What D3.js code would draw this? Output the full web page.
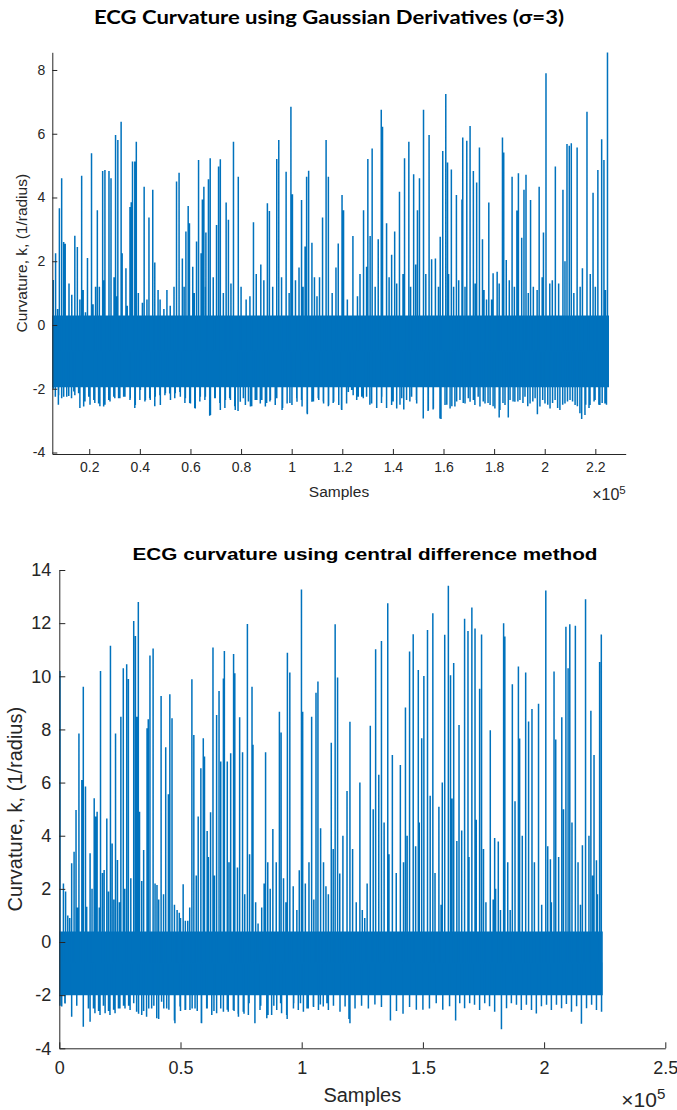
<!DOCTYPE html>
<html><head><meta charset="utf-8">
<script src="https://cdn.jsdelivr.net/npm/d3@7"></script>
<style>body{margin:0;background:#fff}svg{display:block}</style></head>
<body><svg id="c" width="677" height="1110"></svg>
<script>
// ---------- Top panel: Gaussian derivatives (x in units of 1e5 samples) ----------
const gTitle = "ECG Curvature using Gaussian Derivatives (σ=3)";
const gXTicks = [0.2,0.4,0.6,0.8,1.0,1.2,1.4,1.6,1.8,2.0,2.2];
const gYTicks = [-4,-2,0,2,4,6,8];
const gSpan = [0.054, 2.254];          // first / last sample (×1e5)
const gCore = [-1.95, 0.3];            // dense core of the trace
const gPeaks = [
[0.058,1.41],[0.067,2.25],[0.075,0.5],[0.082,3.66],[0.091,4.6],[0.099,2.6],[0.105,2.55],[0.12,1.3],[0.131,0.95],[0.143,2.8],[0.153,2.45],[0.163,0.8],[0.170,4.68],[0.176,1.1],[0.185,0.4],[0.193,2.1],[0.209,5.39],[0.215,0.65],[0.225,1.2],[0.232,3.6],[0.24,1.2],[0.253,4.83],[0.258,1.4],[0.262,4.86],[0.278,4.83],[0.286,4.6],[0.298,1.5],[0.304,5.96],[0.31,0.9],[0.313,5.8],[0.326,6.38],[0.330,2.25],[0.345,1.78],[0.35,0.6],[0.361,3.7],[0.366,3.85],[0.371,5.13],[0.380,5.13],[0.386,5.75],[0.394,1.0],[0.41,0.7],[0.417,4.34],[0.428,0.8],[0.436,3.37],[0.451,4.24],[0.459,1.96],[0.472,1.1],[0.48,0.8],[0.495,0.5],[0.507,1.1],[0.52,0.6],[0.535,1.2],[0.545,4.5],[0.555,4.78],[0.568,2.09],[0.575,1.2],[0.582,2.93],[0.591,3.73],[0.596,3.19],[0.609,1.83],[0.615,1.0],[0.624,2.62],[0.632,5.18],[0.642,2.25],[0.647,3.94],[0.653,4.34],[0.66,1.2],[0.661,2.9],[0.671,4.57],[0.678,5.23],[0.69,1.5],[0.703,3.14],[0.711,4.97],[0.718,5.2],[0.73,1.0],[0.741,3.84],[0.750,3.3],[0.76,1.3],[0.770,5.75],[0.789,4.65],[0.8,1.2],[0.82,0.8],[0.835,0.9],[0.849,3.22],[0.86,1.6],[0.878,1.9],[0.89,1.4],[0.904,3.82],[0.912,3.58],[0.925,1.2],[0.941,5.21],[0.949,5.8],[0.96,1.5],[0.978,4.81],[0.99,1.0],[0.997,6.85],[1.003,4.1],[1.015,1.4],[1.029,1.8],[1.039,3.92],[1.045,1.2],[1.053,2.46],[1.059,4.65],[1.067,4.84],[1.080,2.58],[1.09,1.5],[1.1,0.9],[1.11,1.5],[1.122,3.37],[1.136,5.8],[1.145,4.65],[1.16,1.0],[1.175,1.8],[1.184,2.56],[1.199,4.08],[1.205,3.6],[1.22,0.8],[1.242,2.79],[1.26,0.9],[1.27,1.6],[1.284,3.6],[1.296,1.83],[1.301,5.21],[1.310,2.79],[1.318,5.54],[1.33,1.2],[1.342,2.69],[1.354,6.75],[1.359,6.22],[1.375,3.19],[1.385,1.5],[1.395,2.2],[1.407,2.93],[1.415,1.3],[1.426,4.18],[1.44,1.6],[1.446,5.23],[1.463,5.75],[1.47,1.2],[1.482,4.73],[1.49,1.9],[1.497,3.6],[1.505,4.6],[1.521,6.75],[1.53,1.6],[1.543,5.96],[1.553,2.06],[1.568,2.09],[1.58,1.2],[1.587,2.77],[1.597,5.46],[1.609,7.25],[1.616,5.1],[1.62,1.6],[1.631,4.88],[1.64,1.2],[1.651,4.08],[1.66,1.4],[1.673,3.94],[1.676,5.88],[1.685,1.2],[1.692,5.78],[1.705,6.24],[1.718,4.83],[1.725,1.3],[1.731,4.47],[1.742,5.57],[1.754,2.69],[1.76,1.1],[1.77,0.8],[1.779,3.84],[1.79,0.8],[1.796,1.62],[1.812,1.67],[1.82,1.3],[1.833,5.88],[1.838,5.41],[1.848,2.04],[1.86,1.4],[1.871,4.65],[1.88,1.2],[1.890,3.59],[1.896,4.76],[1.909,2.74],[1.918,4.24],[1.926,4.71],[1.935,1.0],[1.944,3.92],[1.955,1.2],[1.97,1.1],[1.978,4.34],[1.99,1.5],[1.995,2.9],[2.005,7.9],[2.02,1.3],[2.03,1.4],[2.042,4.97],[2.055,1.3],[2.072,4.24],[2.08,2.0],[2.088,5.68],[2.097,5.62],[2.105,5.7],[2.115,1.0],[2.128,5.57],[2.14,1.2],[2.149,1.78],[2.167,6.69],[2.18,1.6],[2.191,4.15],[2.2,1.2],[2.210,4.86],[2.225,5.83],[2.234,5.18],[2.24,1.1],[2.248,8.55]
];
const gTroughs = [
[0.058,-2.0],[0.066,-2.25],[0.078,-2.5],[0.079,-2.2],[0.091,-2.3],[0.099,-2.25],[0.111,-2.25],[0.119,-2.23],[0.130,-2.3],[0.139,-2.09],[0.143,-2.2],[0.158,-2.14],[0.163,-2.6],[0.178,-2.56],[0.183,-2.4],[0.198,-2.25],[0.203,-2.5],[0.218,-2.35],[0.222,-2.45],[0.237,-2.46],[0.242,-2.55],[0.257,-2.56],[0.262,-2.5],[0.277,-2.35],[0.282,-2.4],[0.297,-2.25],[0.301,-2.3],[0.316,-2.3],[0.321,-2.3],[0.336,-2.25],[0.341,-2.25],[0.361,-2.35],[0.362,-2.3],[0.380,-2.6],[0.382,-2.51],[0.400,-2.35],[0.402,-2.04],[0.420,-2.4],[0.422,-2.35],[0.439,-2.3],[0.441,-2.35],[0.459,-2.55],[0.461,-2.25],[0.479,-2.2],[0.481,-2.51],[0.499,-2.2],[0.501,-2.14],[0.518,-2.15],[0.521,-2.35],[0.538,-2.3],[0.540,-2.14],[0.558,-2.1],[0.560,-2.25],[0.578,-2.45],[0.580,-2.3],[0.597,-2.45],[0.600,-2.46],[0.617,-2.6],[0.619,-2.62],[0.637,-2.4],[0.639,-2.25],[0.657,-2.35],[0.659,-2.25],[0.676,-2.85],[0.679,-2.82],[0.696,-2.3],[0.698,-2.3],[0.716,-2.45],[0.718,-2.67],[0.736,-2.6],[0.738,-2.35],[0.755,-2.3],[0.758,-2.35],[0.775,-2.55],[0.777,-2.67],[0.788,-2.7],[0.797,-2.41],[0.809,-2.3],[0.817,-2.51],[0.829,-2.4],[0.837,-2.56],[0.842,-2.55],[0.856,-2.35],[0.862,-2.35],[0.876,-2.46],[0.882,-2.35],[0.896,-2.56],[0.901,-2.45],[0.914,-2.4],[0.916,-2.35],[0.935,-2.51],[0.941,-2.3],[0.962,-2.67],[0.964,-2.6],[0.982,-2.46],[0.993,-2.45],[1.001,-2.51],[1.020,-2.3],[1.021,-2.41],[1.039,-2.35],[1.041,-2.56],[1.061,-2.77],[1.062,-2.8],[1.080,-2.41],[1.086,-2.4],[1.105,-2.3],[1.107,-2.35],[1.125,-2.4],[1.126,-2.46],[1.145,-2.55],[1.146,-2.51],[1.164,-2.45],[1.166,-2.41],[1.186,-2.51],[1.197,-2.65],[1.198,-2.67],[1.217,-2.46],[1.224,-2.1],[1.237,-2.04],[1.243,-2.2],[1.257,-2.35],[1.263,-2.25],[1.277,-2.25],[1.283,-2.3],[1.296,-2.25],[1.309,-2.5],[1.316,-2.46],[1.336,-2.6],[1.336,-2.51],[1.355,-2.45],[1.356,-2.25],[1.375,-2.6],[1.375,-2.35],[1.395,-2.51],[1.401,-2.4],[1.415,-2.62],[1.428,-2.5],[1.435,-2.3],[1.443,-2.65],[1.454,-2.35],[1.467,-2.4],[1.474,-2.25],[1.493,-2.35],[1.494,-2.46],[1.520,-2.9],[1.520,-2.93],[1.539,-2.7],[1.540,-2.67],[1.559,-2.65],[1.560,-2.62],[1.586,-2.93],[1.590,-2.95],[1.606,-2.51],[1.613,-2.5],[1.626,-2.62],[1.633,-2.55],[1.645,-2.56],[1.652,-2.4],[1.665,-2.35],[1.678,-2.45],[1.685,-2.46],[1.698,-2.3],[1.705,-2.41],[1.718,-2.35],[1.724,-2.51],[1.737,-2.25],[1.744,-2.56],[1.757,-2.4],[1.764,-2.46],[1.776,-2.45],[1.784,-2.51],[1.796,-2.55],[1.803,-2.62],[1.820,-2.9],[1.823,-2.67],[1.835,-2.45],[1.843,-2.51],[1.856,-2.9],[1.863,-2.35],[1.875,-2.4],[1.882,-2.41],[1.894,-2.4],[1.902,-2.35],[1.914,-2.45],[1.922,-2.25],[1.933,-2.55],[1.942,-2.46],[1.953,-2.4],[1.962,-2.3],[1.971,-2.8],[1.981,-2.56],[1.992,-2.35],[2.001,-2.46],[2.012,-2.5],[2.021,-2.62],[2.031,-2.45],[2.041,-2.35],[2.051,-2.6],[2.060,-2.67],[2.071,-2.5],[2.080,-2.46],[2.090,-2.4],[2.100,-2.35],[2.110,-2.4],[2.120,-2.51],[2.129,-2.55],[2.139,-2.77],[2.146,-2.95],[2.159,-2.82],[2.162,-2.5],[2.175,-2.6],[2.179,-2.51],[2.195,-2.4],[2.199,-2.35],[2.214,-2.5],[2.218,-2.51],[2.227,-2.45],[2.238,-2.46],[2.244,-2.5]
];

// ---------- Bottom panel: central difference ----------
const cTitle = "ECG curvature using central difference method";
const cXTicks = [0,0.5,1.0,1.5,2.0,2.5];
const cYTicks = [-4,-2,0,2,4,6,8,10,12,14];
const cSpan = [0.0, 2.242];
const cCore = [-2.0, 0.4];
const cPeaks = [
[0.003,10.2],[0.017,2.2],[0.026,1.9],[0.035,1.0],[0.043,0.9],[0.051,2.96],[0.061,3.4],[0.069,4.97],[0.075,1.3],[0.081,7.85],[0.093,6.1],[0.099,9.61],[0.108,5.85],[0.113,1.33],[0.127,3.34],[0.135,2.0],[0.144,5.41],[0.150,4.72],[0.156,4.9],[0.165,1.3],[0.170,10.2],[0.178,2.6],[0.185,2.71],[0.196,4.65],[0.203,1.9],[0.211,11.15],[0.218,3.71],[0.225,1.6],[0.232,7.85],[0.240,3.09],[0.248,1.5],[0.254,8.48],[0.264,10.3],[0.27,2.0],[0.278,10.45],[0.285,9.9],[0.295,2.4],[0.307,12.08],[0.314,11.52],[0.320,8.48],[0.326,12.8],[0.331,4.9],[0.34,2.3],[0.348,3.46],[0.362,8.04],[0.367,8.38],[0.374,10.78],[0.387,11.05],[0.395,2.2],[0.403,2.15],[0.41,1.6],[0.420,9.26],[0.43,1.8],[0.439,7.33],[0.450,5.56],[0.456,9.32],[0.465,8.42],[0.475,1.4],[0.486,1.2],[0.495,1.1],[0.5,0.9],[0.511,2.17],[0.52,0.8],[0.53,0.8],[0.538,1.3],[0.547,9.89],[0.555,7.79],[0.565,2.5],[0.573,4.72],[0.584,6.54],[0.594,7.67],[0.599,6.98],[0.610,4.18],[0.615,3.2],[0.624,4.88],[0.634,11.08],[0.64,2.5],[0.649,8.54],[0.659,9.45],[0.666,6.79],[0.677,9.92],[0.681,10.95],[0.693,6.79],[0.7,3.0],[0.707,7.1],[0.719,10.84],[0.724,10.11],[0.735,2.8],[0.744,8.46],[0.756,7.14],[0.765,1.8],[0.776,11.97],[0.785,3.3],[0.795,9.61],[0.799,7.42],[0.81,1.5],[0.82,0.7],[0.835,1.3],[0.845,2.2],[0.851,7.14],[0.86,3.0],[0.87,2.0],[0.881,4.25],[0.895,3.0],[0.908,8.67],[0.915,7.88],[0.925,2.4],[0.935,1.5],[0.941,10.89],[0.951,10.14],[0.965,2.1],[0.98,1.2],[0.99,2.7],[0.999,13.27],[1.004,8.67],[1.015,2.2],[1.03,3.0],[1.041,8.48],[1.05,1.6],[1.059,9.38],[1.067,9.8],[1.078,4.28],[1.09,3.0],[1.1,2.1],[1.11,1.8],[1.122,7.5],[1.13,3.5],[1.138,11.96],[1.148,9.95],[1.157,2.58],[1.17,4.0],[1.187,5.68],[1.199,8.29],[1.21,3.5],[1.225,1.5],[1.240,6.0],[1.25,1.2],[1.26,0.9],[1.27,2.2],[1.283,8.14],[1.295,5.0],[1.305,11.02],[1.318,6.29],[1.329,11.33],[1.34,4.5],[1.355,12.75],[1.36,3.3],[1.374,7.04],[1.39,2.6],[1.407,6.66],[1.42,3.0],[1.428,8.83],[1.435,4.0],[1.445,10.93],[1.46,11.58],[1.47,3.6],[1.481,10.24],[1.485,4.5],[1.495,7.67],[1.504,10.01],[1.519,11.74],[1.53,5.5],[1.541,12.37],[1.55,2.6],[1.566,5.09],[1.575,1.4],[1.58,6.0],[1.590,11.56],[1.605,13.41],[1.614,10.04],[1.62,5.4],[1.627,10.5],[1.64,3.8],[1.649,8.17],[1.66,4.2],[1.672,12.17],[1.686,11.7],[1.69,3.2],[1.702,12.59],[1.715,11.8],[1.72,4.6],[1.734,9.53],[1.742,11.57],[1.75,3.5],[1.76,1.5],[1.778,7.97],[1.79,1.6],[1.796,3.91],[1.8,2.0],[1.811,3.78],[1.82,1.2],[1.833,12.0],[1.838,11.5],[1.85,3.0],[1.86,1.2],[1.869,9.7],[1.88,5.3],[1.894,10.37],[1.899,7.66],[1.91,4.0],[1.924,10.14],[1.936,8.3],[1.950,8.77],[1.96,3.0],[1.977,8.97],[1.99,1.4],[2.007,13.23],[2.015,3.6],[2.026,3.11],[2.03,1.5],[2.041,10.18],[2.048,7.62],[2.06,3.2],[2.073,8.46],[2.08,5.0],[2.09,11.86],[2.099,10.3],[2.106,11.96],[2.115,4.5],[2.129,11.9],[2.14,3.0],[2.15,1.4],[2.158,3.64],[2.171,12.9],[2.185,4.0],[2.193,8.7],[2.2,2.5],[2.206,7.04],[2.216,3.08],[2.22,1.8],[2.229,10.54],[2.236,11.57]
];
const cTroughs = [
[0.003,-2.4],[0.010,-2.43],[0.023,-2.3],[0.024,-2.31],[0.051,-2.7],[0.051,-2.81],[0.072,-2.4],[0.072,-2.18],[0.099,-3.15],[0.099,-3.19],[0.120,-2.5],[0.127,-3.0],[0.141,-2.5],[0.147,-2.68],[0.162,-2.6],[0.168,-2.75],[0.182,-2.4],[0.189,-2.68],[0.203,-2.6],[0.209,-2.75],[0.224,-2.55],[0.230,-2.68],[0.244,-2.5],[0.250,-2.5],[0.265,-2.4],[0.271,-2.5],[0.286,-2.4],[0.292,-2.56],[0.307,-2.3],[0.319,-2.62],[0.327,-2.7],[0.340,-2.75],[0.348,-2.6],[0.360,-2.81],[0.369,-2.5],[0.381,-2.5],[0.390,-2.4],[0.402,-2.87],[0.410,-2.9],[0.422,-2.25],[0.431,-2.5],[0.443,-2.5],[0.452,-2.55],[0.475,-2.95],[0.477,-3.06],[0.498,-2.43],[0.500,-2.6],[0.519,-2.56],[0.521,-2.55],[0.539,-2.56],[0.548,-2.5],[0.560,-2.5],[0.569,-2.6],[0.586,-3.05],[0.587,-3.06],[0.608,-2.5],[0.610,-2.5],[0.629,-2.75],[0.638,-2.6],[0.649,-2.68],[0.666,-2.5],[0.677,-2.62],[0.693,-2.55],[0.697,-2.62],[0.718,-2.56],[0.721,-2.6],[0.738,-2.7],[0.739,-2.81],[0.759,-2.62],[0.762,-2.7],[0.780,-2.75],[0.783,-2.3],[0.807,-3.0],[0.807,-3.06],[0.828,-2.56],[0.831,-2.4],[0.856,-2.87],[0.861,-2.75],[0.876,-2.75],[0.885,-2.4],[0.897,-2.56],[0.913,-2.3],[0.917,-2.68],[0.938,-2.75],[0.940,-2.9],[0.966,-2.5],[0.967,-2.3],[0.986,-2.56],[0.995,-2.3],[1.007,-2.62],[1.022,-2.5],[1.027,-2.5],[1.048,-2.43],[1.049,-2.45],[1.069,-2.56],[1.077,-2.35],[1.089,-2.43],[1.104,-2.3],[1.110,-2.56],[1.131,-2.37],[1.131,-2.4],[1.158,-2.55],[1.158,-2.62],[1.179,-2.43],[1.195,-2.9],[1.199,-3.06],[1.220,-2.5],[1.247,-2.4],[1.275,-2.5],[1.302,-2.35],[1.329,-2.45],[1.366,-2.95],[1.391,-2.6],[1.418,-2.7],[1.445,-2.45],[1.473,-2.55],[1.500,-2.55],[1.527,-2.5],[1.555,-2.3],[1.582,-2.55],[1.610,-2.42],[1.635,-2.95],[1.652,-2.3],[1.672,-2.49],[1.693,-2.3],[1.713,-2.36],[1.734,-2.56],[1.755,-2.3],[1.775,-2.42],[1.796,-2.62],[1.824,-3.28],[1.845,-2.49],[1.865,-2.3],[1.886,-2.36],[1.906,-2.56],[1.927,-2.36],[1.948,-2.56],[1.968,-2.69],[1.989,-2.42],[2.010,-2.36],[2.030,-2.56],[2.051,-2.36],[2.072,-2.49],[2.092,-2.33],[2.113,-2.62],[2.134,-2.42],[2.154,-3.08],[2.175,-2.49],[2.196,-2.36],[2.216,-2.56],[2.237,-2.62]
];

const LINE = "#0072BD", AX = "#262626";
const FONT = "'Liberation Sans', Arial, sans-serif";
const svg = d3.select("#c");

function panel(o) {
  const x = d3.scaleLinear().domain(o.xDom).range([o.L, o.R]);
  const y = d3.scaleLinear().domain(o.yDom).range([o.B, o.T]);
  const g = svg.append("g");

  // dense core of the trace
  g.append("path")
    .datum(o.span)
    .attr("fill", LINE)
    .attr("d", d3.area().x(d => x(d)).y0(y(o.core[0])).y1(y(o.core[1])));

  // spikes as one polyline of vertical excursions from the core
  const base = (o.core[0] + o.core[1]) / 2;
  const ev = o.peaks.concat(o.troughs).sort((a, b) => a[0] - b[0]);
  const pts = [];
  ev.forEach(([px, pv]) => { pts.push([px, base], [px, pv], [px, base]); });
  g.append("path")
    .datum(pts)
    .attr("fill", "none").attr("stroke", LINE).attr("stroke-width", 1.5)
    .attr("d", d3.line().x(d => x(d[0])).y(d => y(d[1])));

  const fmt = v => String(+v.toFixed(1));
  const xa = g.append("g").attr("transform", `translate(0,${o.B})`)
    .call(d3.axisBottom(x).tickValues(o.xTicks).tickFormat(fmt)
      .tickSizeInner(-o.tick).tickSizeOuter(0).tickPadding(o.xPad));
  const ya = g.append("g").attr("transform", `translate(${o.L},0)`)
    .call(d3.axisLeft(y).tickValues(o.yTicks).tickFormat(d => String(d))
      .tickSizeInner(-o.tick).tickSizeOuter(0).tickPadding(o.yPad));
  [xa, ya].forEach(a => {
    a.select(".domain").attr("stroke", AX).attr("stroke-width", 1);
    a.selectAll(".tick line").attr("stroke", AX);
    a.selectAll(".tick text").attr("fill", AX)
      .attr("font-family", FONT).attr("font-size", o.tickFs);
  });

  // labels
  g.append("text").attr("x", (o.L + o.R) / 2).attr("y", o.xLabY)
    .attr("text-anchor", "middle").attr("fill", AX)
    .attr("font-family", FONT).attr("font-size", o.labFs)
    .text("Samples");
  g.append("text").attr("transform", `translate(${o.yLabX},${(o.T + o.B) / 2}) rotate(-90)`)
    .attr("text-anchor", "middle").attr("fill", AX)
    .attr("font-family", FONT).attr("font-size", o.labFs)
    .text("Curvature, k, (1/radius)");
  const ex = g.append("text").attr("x", o.R).attr("y", o.expY)
    .attr("text-anchor", "end").attr("fill", AX)
    .attr("font-family", FONT).attr("font-size", o.expFs);
  ex.append("tspan").text("×10");
  ex.append("tspan").attr("dy", -o.expFs * 0.4).attr("font-size", o.expFs * 0.72).text("5");

  g.append("text").attr("x", o.titleX).attr("y", o.titleY)
    .attr("text-anchor", "middle").attr("fill", "#000").attr("font-weight", "bold")
    .attr("font-family", o.titleFont).attr("font-size", o.titleFs)
    .attr("textLength", o.titleLen).attr("lengthAdjust", "spacingAndGlyphs")
    .text(o.title);
}

panel({
  L: 52.3, R: 625.7, T: 52.3, B: 454, xDom: [0.054, 2.32], yDom: [-4.047, 8.555],
  span: gSpan, core: gCore, peaks: gPeaks, troughs: gTroughs,
  xTicks: gXTicks, yTicks: gYTicks, tick: 5, xPad: 8, yPad: 7, tickFs: 14, labFs: 15.5,
  xLabY: 497, yLabX: 27, expY: 500, expFs: 16,
  title: gTitle, titleX: 329, titleY: 24, titleFs: 19, titleLen: 470, titleFont: "Lato, 'Open Sans', sans-serif"
});
panel({
  L: 59.3, R: 665.3, T: 570, B: 1048.3, xDom: [0, 2.5], yDom: [-4, 14],
  span: cSpan, core: cCore, peaks: cPeaks, troughs: cTroughs,
  xTicks: cXTicks, yTicks: cYTicks, tick: 6, xPad: 13, yPad: 8, tickFs: 18, labFs: 20,
  xLabY: 1102, yLabX: 22, expY: 1107, expFs: 21,
  title: cTitle, titleX: 365, titleY: 560, titleFs: 17, titleLen: 465, titleFont: FONT
});
</script></body></html>
